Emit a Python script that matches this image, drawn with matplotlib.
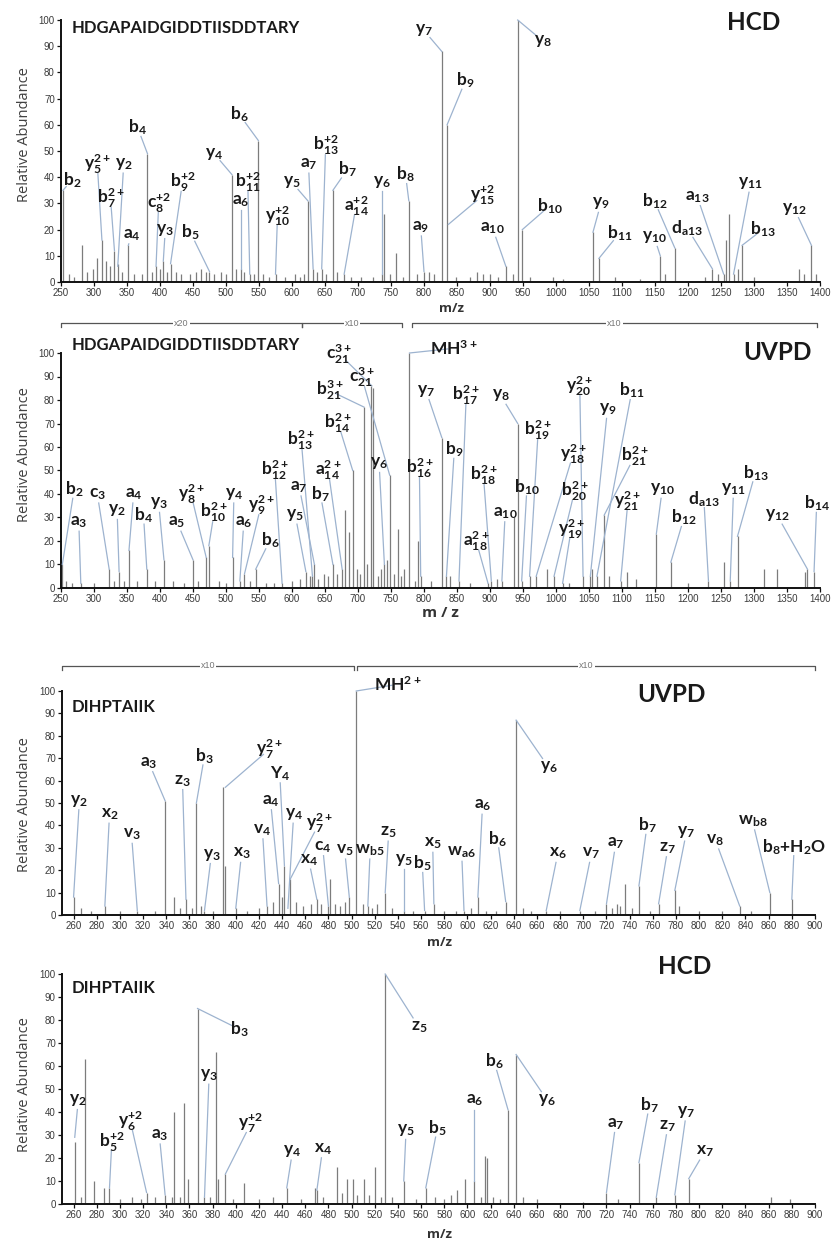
import matplotlib
matplotlib.use("Agg")
import matplotlib.pyplot as plt
import matplotlib.transforms as mtransforms
import numpy as np

plt.rcParams['mathtext.fontset'] = 'custom'
plt.rcParams['mathtext.rm'] = 'Lato:bold'
plt.rcParams['mathtext.it'] = 'Lato:bold'
plt.rcParams['mathtext.bf'] = 'Lato:bold'
plt.rcParams['mathtext.sf'] = 'Lato:bold'
plt.rcParams['mathtext.default'] = 'rm'

W, H = 833, 1244

# ---------------- spectrum 1: HDGAPAIDGIDDTIISDDTARY, HCD ----------------
hcd1_mz = [253, 262, 270, 282, 290, 298, 305, 312, 318, 324, 331, 336, 342, 352, 360, 372,
           381, 388, 394, 400, 405, 410, 416, 425, 432, 445, 455, 462, 470, 475, 482, 492,
           500, 509, 515, 522, 528, 536, 542, 549, 556, 565, 575, 590, 604, 612, 618, 624,
           632, 638, 645, 652, 662, 668, 679, 690, 705, 722, 737, 740, 748, 757, 768, 777,
           790, 800, 808, 815, 827, 835, 848, 870, 880, 890, 900, 912, 924, 935, 942, 949,
           960, 995, 1010, 1056, 1065, 1090, 1128, 1158, 1165, 1180, 1225, 1237, 1245, 1254,
           1258, 1262, 1269, 1276, 1282, 1300, 1368, 1376, 1387, 1394]
hcd1_int = [35, 3, 2, 14, 4, 5, 9, 16, 8, 6, 12, 7, 4, 14, 3, 3,
            49, 4, 6, 5, 8, 4, 7, 4, 3, 3, 4, 5, 4, 4, 3, 4,
            3, 41, 5, 5, 4, 3, 3, 54, 3, 2, 3, 2, 3, 2, 3, 31,
            5, 4, 5, 3, 35, 4, 3, 2, 2, 2, 3, 26, 3, 11, 2, 31,
            3, 4, 4, 3, 88, 60, 2, 2, 4, 3, 3, 2, 6, 3, 100, 20,
            2, 2, 1, 19, 9, 2, 1, 10, 3, 13, 2, 5, 3, 3,
            16, 26, 3, 5, 14, 2, 5, 3, 14, 3]
hcd1_labels = ['b$_2$', 'y$_5^{2+}$', 'b$_7^{2+}$', 'y$_2$', 'a$_4$', 'b$_4$', 'c$_8^{+2}$', 'y$_3$',
               'b$_9^{+2}$', 'b$_5$', 'y$_4$', 'b$_{11}^{+2}$', 'a$_6$', 'b$_6$', 'y$_{10}^{+2}$', 'y$_5$',
               'a$_7$', 'b$_{13}^{+2}$', 'b$_7$', 'a$_{14}^{+2}$', 'y$_6$', 'b$_8$', 'a$_9$', 'y$_7$',
               'b$_9$', 'y$_{15}^{+2}$', 'a$_{10}$', 'y$_8$', 'b$_{10}$', 'y$_9$', 'b$_{11}$', 'y$_{10}$',
               'b$_{12}$', 'd$_{a13}$', 'a$_{13}$', 'y$_{11}$', 'b$_{13}$', 'y$_{12}$']
hcd1_ion_mz = [253, 312, 331, 336, 352, 381, 394, 405, 416, 475, 509, 536, 522, 549, 575, 624,
               632, 645, 662, 679, 737, 777, 800, 827, 835, 837, 924, 942, 949, 1056, 1065, 1158,
               1180, 1237, 1254, 1269, 1282, 1387]
hcd1_ion_int = [35, 16, 12, 6, 14, 49, 6, 8, 7, 4, 41, 3, 5, 54, 3, 31,
                5, 5, 35, 3, 3, 31, 4, 88, 60, 22, 6, 100, 20, 19, 9, 10,
                13, 5, 3, 3, 14, 14]
hcd1_text_xy = [(267, 39), (305, 45), (325, 32), (345, 45), (357, 18), (366, 59), (398, 30), (408, 20),
                (434, 38), (446, 19), (482, 49), (533, 38), (522, 31), (520, 64), (578, 25), (600, 38),
                (625, 45), (651, 52), (684, 43), (697, 29), (737, 38), (772, 41), (795, 21), (800, 96),
                (863, 77), (889, 33), (904, 20.5), (980, 92), (990, 29), (1068, 30), (1096, 18.6), (1149, 17),
                (1149, 31), (1199, 20.5), (1214, 32.6), (1295, 37.7), (1313, 20), (1361, 28)]

# ---------------- spectrum 2: HDGAPAIDGIDDTIISDDTARY, UVPD ----------------
uvpd1_mz = [252, 258, 266, 280, 300, 323, 330, 338, 345, 353, 365, 380, 392, 406, 420, 436,
            450, 458, 470, 474, 490, 500, 510, 521, 528, 536, 545, 560, 572, 585, 600, 612,
            621, 627, 631, 634, 640, 648, 655, 662, 668, 676, 681, 686, 692, 698, 703, 709,
            714, 719, 722, 730, 735, 740, 744, 748, 754, 760, 765, 770, 778, 786, 791, 795,
            810, 827, 834, 840, 853, 870, 897, 902, 910, 918, 937, 942, 948, 960, 970, 986,
            997, 1010, 1020, 1041, 1052, 1055, 1062, 1073, 1080, 1098, 1108, 1121, 1152, 1174,
            1200, 1231, 1255, 1264, 1275, 1315, 1335, 1378, 1381, 1391]
uvpd1_int = [10, 3, 2, 2, 2, 8, 3, 7, 3, 16, 3, 8, 3, 12, 3, 2,
             12, 3, 13, 18, 3, 2, 13, 3, 6, 3, 8, 2, 2, 2, 3, 4,
             7, 5, 5, 10, 4, 6, 5, 10, 6, 8, 33, 24, 50, 8, 6, 77,
             10, 86, 85, 5, 8, 10, 12, 48, 6, 25, 5, 8, 100, 3, 20, 5,
             3, 64, 5, 5, 3, 2, 2, 3, 4, 3, 30, 70, 3, 5, 5, 8,
             5, 2, 2, 5, 5, 8, 5, 31, 5, 3, 7, 4, 23, 11,
             2, 3, 11, 3, 22, 8, 8, 7, 8, 7]
uvpd1_labels = ['b$_2$', 'a$_3$', 'c$_3$', 'y$_2$', 'a$_4$', 'b$_4$', 'y$_3$', 'a$_5$',
                'y$_8^{2+}$', 'b$_{10}^{2+}$', 'y$_4$', 'a$_6$', 'y$_9^{2+}$', 'b$_6$', 'b$_{12}^{2+}$', 'y$_5$',
                'b$_{13}^{2+}$', 'a$_7$', 'b$_7$', 'a$_{14}^{2+}$', 'b$_{14}^{2+}$', 'b$_{21}^{3+}$', 'c$_{21}^{3+}$', 'c$_{21}^{3+}$',
                'y$_6$', 'MH$^{3+}$', 'b$_{16}^{2+}$', 'y$_7$', 'b$_{17}^{2+}$', 'b$_9$', 'y$_8$', 'b$_{18}^{2+}$',
                'a$_{18}^{2+}$', 'a$_{10}$', 'b$_{10}$', 'b$_{19}^{2+}$', 'y$_{18}^{2+}$', 'b$_{20}^{2+}$', 'y$_{19}^{2+}$', 'y$_{20}^{2+}$',
                'y$_9$', 'b$_{11}$', 'b$_{21}^{2+}$', 'y$_{21}^{2+}$', 'y$_{10}$', 'b$_{12}$', 'd$_{a13}$', 'y$_{11}$',
                'b$_{13}$', 'y$_{12}$', 'b$_{14}$']
uvpd1_ion_mz = [252, 280, 323, 338, 353, 380, 406, 450, 470, 474, 510, 521, 528, 545, 585, 621,
                631, 634, 662, 676, 692, 709, 721, 748, 740, 778, 795, 827, 853, 834, 942, 902,
                897, 918, 948, 960, 970, 997, 1010, 1041, 1052, 1062, 1073, 1098, 1152, 1174, 1231, 1264,
                1275, 1381, 1391]
uvpd1_ion_int = [10, 2, 8, 7, 16, 8, 12, 12, 13, 18, 13, 3, 6, 8, 2, 7,
                 5, 10, 10, 8, 50, 77, 86, 48, 10, 100, 5, 64, 3, 5, 70, 3,
                 2, 3, 3, 5, 5, 5, 2, 5, 5, 5, 31, 3, 23, 11, 3, 3,
                 22, 8, 7]
uvpd1_text_xy = [(270, 42), (277, 28), (305, 40), (335, 33), (360, 40), (375, 31), (398, 36), (426, 28),
                 (447, 40), (482, 32), (512, 40), (527, 28), (553, 35), (567, 20.5), (574, 50), (605, 31),
                 (614, 63), (611, 43), (643, 40), (655, 50), (670, 70), (657, 84), (672, 99.5), (706, 89.5),
                 (732, 53), (845, 102), (793, 51), (803, 84), (864, 82), (846, 59), (916, 82), (890, 48),
                 (879, 20), (923, 32), (956, 43), (973, 67), (1026, 57), (1028, 41), (1023, 25), (1036, 86),
                 (1078, 76), (1115, 84), (1119, 56), (1109, 37), (1161, 42), (1194, 30), (1224, 38), (1269, 42),
                 (1302, 49), (1335, 31), (1395, 36)]

# ---------------- spectrum 3: DIHPTAIIK, UVPD ----------------
uvpd2_mz = [260, 266, 275, 287, 300, 315, 330, 339, 347, 352, 357, 362, 366, 370, 373, 380,
            389, 391, 400, 410, 420, 427, 432, 437, 440, 442, 447, 452, 458, 465, 470, 474,
            480, 481, 486, 490, 494, 498, 504, 510, 514, 518, 522, 529, 535, 545, 553, 563,
            571, 580, 590, 597, 603, 609, 616, 625, 633, 642, 648, 655, 668, 680, 697, 710,
            720, 725, 729, 732, 736, 742, 748, 758, 765, 779, 783, 800, 820, 835, 845, 861, 880]
uvpd2_int = [8, 3, 2, 4, 2, 2, 2, 51, 8, 3, 7, 3, 50, 4, 2, 2,
             57, 22, 3, 2, 3, 4, 6, 14, 8, 22, 16, 6, 4, 5, 7, 5,
             4, 16, 5, 4, 6, 8, 100, 5, 4, 3, 5, 10, 3, 2, 2, 2,
             5, 2, 2, 2, 3, 8, 2, 2, 6, 87, 3, 2, 2, 2, 2, 2,
             5, 3, 5, 4, 14, 3, 13, 2, 5, 11, 4, 2, 2, 4, 2, 10, 7]
uvpd2_labels = ['y$_2$', 'x$_2$', 'v$_3$', 'a$_3$', 'z$_3$', 'b$_3$', 'y$_3$', 'y$_7^{2+}$',
                'x$_3$', 'Y$_4$', 'a$_4$', 'y$_4$', 'v$_4$', 'y$_7^{2+}$', 'x$_4$', 'c$_4$',
                'v$_5$', 'MH$^{2+}$', 'w$_{b5}$', 'z$_5$', 'y$_5$', 'b$_5$', 'x$_5$', 'w$_{a6}$',
                'a$_6$', 'b$_6$', 'y$_6$', 'x$_6$', 'v$_7$', 'a$_7$', 'b$_7$', 'z$_7$',
                'y$_7$', 'v$_8$', 'w$_{b8}$', 'b$_8$+H$_2$O']
uvpd2_ion_mz = [260, 287, 315, 339, 357, 366, 373, 391, 400, 442, 437, 445, 427, 447, 470, 480,
                498, 504, 514, 529, 545, 563, 571, 597, 609, 633, 642, 668, 697, 720, 748, 765,
                779, 835, 861, 880]
uvpd2_ion_int = [8, 4, 2, 51, 7, 50, 2, 57, 3, 22, 14, 3, 4, 16, 7, 4,
                 8, 100, 4, 10, 2, 2, 5, 2, 8, 6, 87, 2, 2, 5, 13, 5,
                 11, 4, 10, 7]
uvpd2_text_xy = [(265, 51), (291, 45), (310, 36), (325, 68), (354, 60), (373, 71), (379, 27), (429, 74),
                 (405, 27.5), (438, 63), (430, 51), (450, 45), (423, 38), (472, 41), (463, 24.5), (475, 30.5),
                 (494, 29), (540, 103), (516, 29), (532, 37), (545, 24.5), (561, 23), (570, 32), (595, 28),
                 (613, 49), (626, 34), (670, 66), (678, 27.5), (707, 27.5), (728, 32), (755, 40), (773, 30),
                 (789, 37), (814, 33.5), (846, 42), (882, 30.5)]

# ---------------- spectrum 4: DIHPTAIIK, HCD ----------------
hcd2_mz = [261, 266, 270, 278, 286, 291, 300, 310, 318, 323, 330, 339, 345, 347, 352, 355,
           359, 367, 373, 378, 383, 385, 391, 398, 407, 420, 432, 444, 456, 468, 470, 475,
           487, 492, 496, 501, 505, 511, 515, 520, 525, 529, 535, 545, 556, 564, 572, 580,
           586, 591, 598, 606, 612, 615, 617, 622, 628, 635, 642, 648, 660, 700, 720, 730,
           748, 763, 779, 791, 862, 878]
hcd2_int = [27, 3, 63, 10, 7, 7, 2, 3, 2, 5, 3, 4, 3, 40, 3, 44,
            11, 85, 3, 3, 66, 11, 13, 2, 9, 2, 3, 7, 2, 7, 6, 3,
            16, 5, 11, 11, 4, 11, 4, 16, 3, 100, 3, 10, 2, 7, 3, 2,
            4, 6, 11, 10, 3, 21, 20, 3, 2, 41, 65, 3, 2, 1, 5, 2,
            18, 3, 4, 11, 3, 2]
hcd2_labels = ['y$_2$', 'b$_5^{+2}$', 'y$_6^{+2}$', 'a$_3$', 'b$_3$', 'y$_3$', 'y$_7^{+2}$', 'y$_4$',
               'x$_4$', 'z$_5$', 'y$_5$', 'b$_5$', 'a$_6$', 'b$_6$', 'y$_6$', 'a$_7$',
               'b$_7$', 'z$_7$', 'y$_7$', 'x$_7$']
hcd2_ion_mz = [261, 291, 323, 339, 367, 373, 391, 444, 470, 529, 545, 564, 606, 635, 642, 720,
               748, 763, 779, 791]
hcd2_ion_int = [29, 7, 5, 4, 85, 3, 13, 7, 6, 100, 10, 7, 10, 41, 65, 5,
                18, 3, 4, 11]
hcd2_text_xy = [(264, 45), (293, 27), (309, 36), (334, 30), (403, 76), (377, 56), (413, 35), (449, 23),
                (475, 24), (558, 77), (547, 32), (574, 33), (606, 45), (623, 62), (669, 45), (728, 35),
                (757, 43), (773, 34), (789, 40), (805, 23)]

PEAK = '#7c7c7c'
LEAD = '#9db3cf'
TICK = '#3a3a3a'

fig = plt.figure(figsize=(W / 100, H / 100), dpi=100)


def make_axes(x0, x1, ytop, ybot, lo, hi, step, first):
    ax = fig.add_axes([x0 / W, 1 - ybot / H, (x1 - x0) / W, (ybot - ytop) / H])
    ax.set_xlim(lo, hi)
    ax.set_ylim(0, 100)
    ax.set_xticks(np.arange(first, hi + 1, step))
    ax.set_yticks(np.arange(0, 101, 10))
    for s in ('top', 'right'):
        ax.spines[s].set_visible(False)
    for s in ('left', 'bottom'):
        ax.spines[s].set_linewidth(1.4)
        ax.spines[s].set_color('#111111')
    ax.tick_params(direction='out', length=3, width=0.9, pad=1.5,
                   labelsize=7, labelcolor=TICK, color='#111111')
    for t in ax.get_xticklabels() + ax.get_yticklabels():
        t.set_family('Liberation Sans')
    ax.patch.set_alpha(0)
    return ax


def draw_spectrum(ax, mz, inten, labels, ion_mz, ion_int, text_xy, fs=12.5):
    ax.vlines(mz, 0, inten, color=PEAK, lw=0.9, zorder=2)
    inv = ax.transData.inverted()
    for lab, m, h, (tx, ty) in zip(labels, ion_mz, ion_int, text_xy):
        # leader runs from the edge of the label box to the peak
        p0 = ax.transData.transform((tx, ty))
        p1 = ax.transData.transform((m, h))
        d = p1 - p0
        hw, hh = 6.0, 9.0
        t = min(hw / abs(d[0]) if d[0] else np.inf, hh / abs(d[1]) if d[1] else np.inf)
        ps = p0 + d * min(t, 1.0)
        s = inv.transform(ps)
        ax.plot([s[0], m], [s[1], h], color=LEAD, lw=0.9, zorder=3, clip_on=False)
        ax.text(tx, ty, lab, ha='center', va='center', fontsize=fs,
                family='Lato', fontweight='bold', color='#1a1a1a', zorder=4)


def bracket(ax, y_px, segments):
    trans = mtransforms.blended_transform_factory(ax.transData, fig.transFigure)
    y = 1 - y_px / H
    for lo, hi, lab in segments:
        ax.plot([lo, lo, hi, hi], [y - 4 / H, y, y, y - 4 / H], color='#555555', lw=0.9,
                transform=trans, clip_on=False)
        ax.text((lo + hi) / 2, y, lab, transform=trans, ha='center', va='center',
                fontsize=6.5, color='#777777', family='Liberation Sans',
                bbox=dict(fc='white', ec='none', pad=0.8), clip_on=False)


def fig_text(px, py, s, **kw):
    fig.text(px / W, 1 - py / H, s, **kw)


ax1 = make_axes(61, 820, 20, 282, 250, 1400, 50, 250)
ax2 = make_axes(61, 820, 353, 588, 250, 1400, 50, 250)
ax3 = make_axes(62, 815, 691, 915, 250, 900, 20, 260)
ax4 = make_axes(62, 815, 974, 1204, 250, 900, 20, 260)

draw_spectrum(ax1, hcd1_mz, hcd1_int, hcd1_labels, hcd1_ion_mz, hcd1_ion_int, hcd1_text_xy)
draw_spectrum(ax2, uvpd1_mz, uvpd1_int, uvpd1_labels, uvpd1_ion_mz, uvpd1_ion_int, uvpd1_text_xy)
draw_spectrum(ax3, uvpd2_mz, uvpd2_int, uvpd2_labels, uvpd2_ion_mz, uvpd2_ion_int, uvpd2_text_xy)
draw_spectrum(ax4, hcd2_mz, hcd2_int, hcd2_labels, hcd2_ion_mz, hcd2_ion_int, hcd2_text_xy)

# magnification brackets
bracket(ax2, 323, [(250, 615, 'x20'), (615, 767, 'x10'), (782, 1395, 'x10')])
bracket(ax3, 666, [(250, 502, 'x10'), (505, 900, 'x10')])

seq_kw = dict(family='Lato', fontweight='bold', fontsize=12, color='#1a1a1a', va='center', ha='left')
mode_kw = dict(family='Lato', fontweight='bold', fontsize=17.5, color='#1a1a1a', va='center', ha='left')
fig_text(72, 28, 'HDGAPAIDGIDDTIISDDTARY', **seq_kw)
fig_text(727, 22, 'HCD', **mode_kw)
fig_text(72, 345, 'HDGAPAIDGIDDTIISDDTARY', **seq_kw)
fig_text(743, 353, 'UVPD', **mode_kw)
fig_text(72, 707, 'DIHPTAIIK', **seq_kw)
fig_text(637, 695, 'UVPD', **mode_kw)
fig_text(72, 988, 'DIHPTAIIK', **seq_kw)
fig_text(658, 967, 'HCD', **mode_kw)

ylab_kw = dict(family='Open Sans', fontsize=10.5, color='#404040', rotation=90, ha='center', va='center')
for yc in (135, 455, 805, 1085):
    fig_text(25, yc, 'Relative Abundance', **ylab_kw)

mz_kw = dict(family='Open Sans', fontweight='bold', color='#333333', ha='center', va='center')
fig_text(452, 308, 'm/z', fontsize=9.5, **mz_kw)
fig_text(440, 613, 'm / z', fontsize=11, **mz_kw)
fig_text(440, 942, 'm/z', fontsize=9.5, **mz_kw)
fig_text(440, 1235, 'm/z', fontsize=9.5, **mz_kw)

fig.savefig('out.png', dpi=100)
